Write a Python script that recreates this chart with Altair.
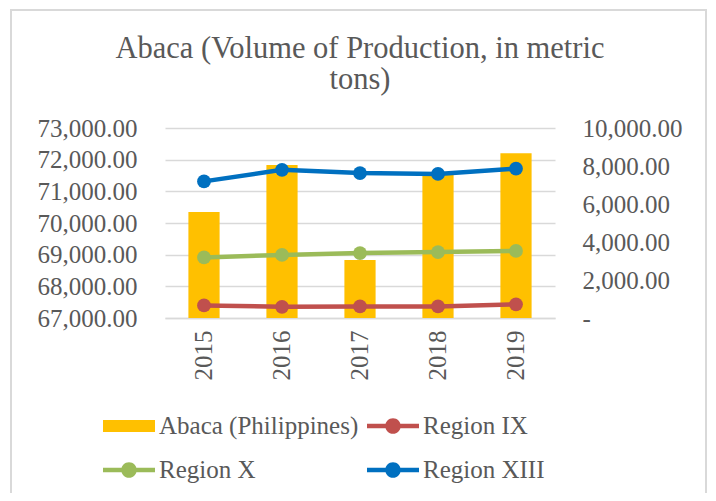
import altair as alt
import pandas as pd

# ---- data ----
years = ["2015", "2016", "2017", "2018", "2019"]
abaca_philippines = [70350, 71830, 68830, 71530, 72200]
region_ix = [660, 590, 610, 610, 720]
region_x = [3190, 3320, 3420, 3470, 3530]
region_xiii = [7190, 7800, 7630, 7580, 7860]

series_names = ["Abaca (Philippines)", "Region IX", "Region X", "Region XIII"]
series_colors = ["#FFC000", "#C0504D", "#9BBB59", "#0070C0"]
left_ticks = [67000, 68000, 69000, 70000, 71000, 72000, 73000]
right_ticks = [0, 2000, 4000, 6000, 8000, 10000]
left_min, left_max = 67000, 73000
right_min, right_max = 0, 10000

FONT = "Liberation Serif"
TEXT = "#595959"
GRID = "#D9D9D9"

bar_df = pd.DataFrame({"year": years, "value": abaca_philippines, "series": series_names[0]})
line_df = pd.concat([
    pd.DataFrame({"year": years, "value": region_ix, "series": series_names[1]}),
    pd.DataFrame({"year": years, "value": region_x, "series": series_names[2]}),
    pd.DataFrame({"year": years, "value": region_xiii, "series": series_names[3]}),
], ignore_index=True)

BAR_PATH = "M-1,-0.23H1V0.23H-1Z"
LINE_PATH = ("M-1,-0.09H-0.29V0.09H-1Z M0.29,-0.09H1V0.09H0.29Z "
             "M-0.3,0A0.3,0.3,0,1,1,0.3,0A0.3,0.3,0,1,1,-0.3,0Z")

legend = alt.Legend(
    title=None, orient="none", legendX=-62, legendY=272, columns=2, direction="horizontal",
    symbolSize=2704, symbolOpacity=1, symbolStrokeWidth=0,
    labelFontSize=25, labelFont=FONT, labelColor=TEXT, labelOffset=4,
    rowPadding=5, columnPadding=8, labelLimit=400,
)
color = alt.Color("series:N", scale=alt.Scale(domain=series_names, range=series_colors), legend=legend)
shape = alt.Shape("series:N", scale=alt.Scale(domain=series_names, range=[BAR_PATH] + [LINE_PATH] * 3), legend=legend)

x = alt.X("year:N", sort=years, title=None,
          scale=alt.Scale(paddingInner=0.6, paddingOuter=0.3),
          axis=alt.Axis(labelAngle=270, labelPadding=12, ticks=False,
                        domainColor=GRID, domainWidth=1.5))

left_axis = alt.Axis(values=left_ticks, format=",.2f", grid=True, gridColor=GRID, gridWidth=1.5,
                     domain=False, ticks=False, labelPadding=28, title=None, orient="left")
right_axis = alt.Axis(values=right_ticks, labelExpr="datum.value == 0 ? '-' : format(datum.value, ',.2f')",
                      grid=False, domain=False, ticks=False, labelPadding=27, title=None, orient="right")

y_left = alt.Y("value:Q", scale=alt.Scale(domain=[left_min, left_max], zero=False, nice=False), axis=left_axis)
y_right = alt.Y("value:Q", scale=alt.Scale(domain=[right_min, right_max], nice=False), axis=right_axis)

bars = alt.Chart(bar_df).mark_bar().encode(x=x, y=y_left, y2=alt.datum(left_min), color=color)
helper = alt.Chart(bar_df).mark_point(opacity=0, filled=True).encode(x=x, y=y_left, color=color, shape=shape)
left = alt.layer(bars, helper)

lines = alt.Chart(line_df).mark_line(strokeWidth=4.5).encode(x=x, y=y_right, color=color, detail="series:N")
points = alt.Chart(line_df).mark_point(filled=True, size=190, opacity=1).encode(x=x, y=y_right, color=color)
right = alt.layer(lines, points)

frame = alt.Chart(pd.DataFrame({"k": [0]})).mark_rect(
    fill=None, stroke=GRID, strokeWidth=2, clip=False
).encode(x=alt.value(-154), x2=alt.value(541), y=alt.value(-118), y2=alt.value(400))

chart = alt.layer(frame, left, right).resolve_scale(y="independent").properties(
    width=390, height=190,
    title=alt.Title(["Abaca (Volume of Production, in metric", "tons)"],
                    font=FONT, fontSize=30.5, fontWeight="normal", color=TEXT,
                    anchor="middle", lineHeight=31, offset=36, dy=122, frame="group"),
    autosize=alt.AutoSizeParams(type="none"),
    padding={"left": 157, "top": 120, "right": 153, "bottom": 175},
).configure_axis(
    labelFont=FONT, labelFontSize=25, labelColor=TEXT,
).configure_view(stroke=None)

chart.save("out.html", embed_options={"renderer": "svg", "actions": False})
